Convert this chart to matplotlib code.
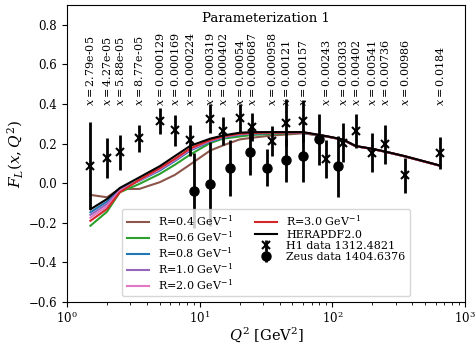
import matplotlib
matplotlib.use("Agg")
import matplotlib.pyplot as plt
import numpy as np

plt.rcParams['font.family'] = ['DejaVu Serif']
plt.rcParams['mathtext.fontset'] = 'dejavuserif'

# H1 data (1312.4821)
h1_q2 = [1.5, 2.0, 2.5, 3.5, 5.0, 6.5, 8.5, 12, 15, 20, 25, 35, 45, 60, 90, 120, 150, 200, 250, 350, 650]
h1_x = ["2.79e-05", "4.27e-05", "5.88e-05", "8.77e-05", "0.000129", "0.000169", "0.000224",
        "0.000319", "0.000402", "0.00054", "0.000687", "0.000958", "0.00121", "0.00157",
        "0.00243", "0.00303", "0.00402", "0.00541", "0.00736", "0.00986", "0.0184"]
h1_fl = [0.089, 0.127, 0.157, 0.228, 0.315, 0.267, 0.216, 0.326, 0.264, 0.330, 0.284, 0.211,
         0.306, 0.316, 0.123, 0.205, 0.264, 0.154, 0.196, 0.039, 0.154]
h1_err = [0.22, 0.10, 0.089, 0.068, 0.066, 0.080, 0.080, 0.072, 0.072, 0.072, 0.072, 0.076,
          0.12, 0.106, 0.097, 0.099, 0.085, 0.099, 0.10, 0.086, 0.080]

# ZEUS data (1404.6376)
zeus_q2 = [9, 12, 17, 24, 32, 45, 60, 80, 110]
zeus_fl = [-0.037, -0.004, 0.076, 0.160, 0.078, 0.115, 0.137, 0.221, 0.086]
zeus_err = [0.19, 0.21, 0.14, 0.12, 0.093, 0.11, 0.13, 0.127, 0.154]

# Model curves evaluated at H1 Q^2 points
herapdf = [-0.132, -0.080, -0.024, 0.029, 0.086, 0.137, 0.189, 0.225, 0.241, 0.255, 0.258,
           0.258, 0.258, 0.258, 0.238, 0.221, 0.188, 0.174, 0.160, 0.137, 0.089]
r04 = [-0.059, -0.071, -0.029, -0.029, 0.005, 0.042, 0.095, 0.165, 0.191, 0.221, 0.230,
       0.241, 0.246, 0.252, 0.236, 0.220, 0.187, 0.173, 0.159, 0.136, 0.088]
r06 = [-0.215, -0.144, -0.046, -0.004, 0.047, 0.093, 0.145, 0.203, 0.225, 0.236, 0.244,
       0.249, 0.252, 0.254, 0.236, 0.220, 0.187, 0.173, 0.159, 0.136, 0.088]
r08 = [-0.147, -0.093, -0.029, 0.012, 0.064, 0.112, 0.165, 0.210, 0.230, 0.245, 0.250,
       0.253, 0.254, 0.255, 0.237, 0.220, 0.187, 0.173, 0.159, 0.136, 0.088]
r10 = [-0.160, -0.105, -0.034, 0.013, 0.068, 0.116, 0.169, 0.213, 0.233, 0.247, 0.252,
       0.254, 0.255, 0.256, 0.237, 0.220, 0.187, 0.173, 0.159, 0.136, 0.088]
r20 = [-0.174, -0.117, -0.040, 0.015, 0.072, 0.120, 0.173, 0.216, 0.235, 0.249, 0.253,
       0.255, 0.256, 0.256, 0.237, 0.220, 0.187, 0.173, 0.159, 0.136, 0.088]
r30 = [-0.190, -0.130, -0.046, 0.017, 0.076, 0.123, 0.176, 0.218, 0.236, 0.250, 0.254,
       0.256, 0.256, 0.257, 0.237, 0.220, 0.187, 0.173, 0.159, 0.136, 0.088]

curves = [("R=0.4 GeV$^{-1}$", r04, "#8c564b"),
          ("R=0.6 GeV$^{-1}$", r06, "#2ca02c"),
          ("R=0.8 GeV$^{-1}$", r08, "#1f77b4"),
          ("R=1.0 GeV$^{-1}$", r10, "#9467bd"),
          ("R=2.0 GeV$^{-1}$", r20, "#e377c2"),
          ("R=3.0 GeV$^{-1}$", r30, "#d62728"),
          ("HERAPDF2.0", herapdf, "black")]

fig = plt.figure(figsize=(4.76, 3.43), dpi=100)
ax = fig.add_axes([0.1408, 0.1195, 0.8361, 0.8659])

for lab, vals, col in curves:
    ax.plot(h1_q2, vals, color=col, lw=1.5, label=lab)

ax.errorbar(h1_q2, h1_fl, yerr=h1_err, fmt='x', color='black', ms=6, mew=1.5,
            elinewidth=2, label='H1 data 1312.4821')
ax.errorbar(zeus_q2, zeus_fl, yerr=zeus_err, fmt='o', color='black', ms=6.5,
            elinewidth=2, label='Zeus data 1404.6376')

for q, xs in zip(h1_q2, h1_x):
    ax.text(q, 0.39, r"$x = $" + xs, rotation=90, ha='center', va='bottom', fontsize=8)

ax.text(0.5, 0.955, "Parameterization 1", transform=ax.transAxes, ha='center', va='center',
        fontsize=9.5)

ax.set_xscale('log')
ax.set_xlim(1, 1000)
ax.set_ylim(-0.6, 0.9)
ax.set_yticks(np.arange(-0.6, 0.81, 0.2))
ax.set_xlabel(r"$Q^2$ [GeV$^2$]", fontsize=10.5, labelpad=0)
ax.set_ylabel(r"$F_L(x,Q^2)$", fontsize=11, labelpad=3)
ax.tick_params(labelsize=8.5)
ax.tick_params(axis='x', which='both', pad=2)

ax.legend(loc='lower center', ncol=2, fontsize=8, labelspacing=0.12)

fig.savefig("out.png", dpi=100)
